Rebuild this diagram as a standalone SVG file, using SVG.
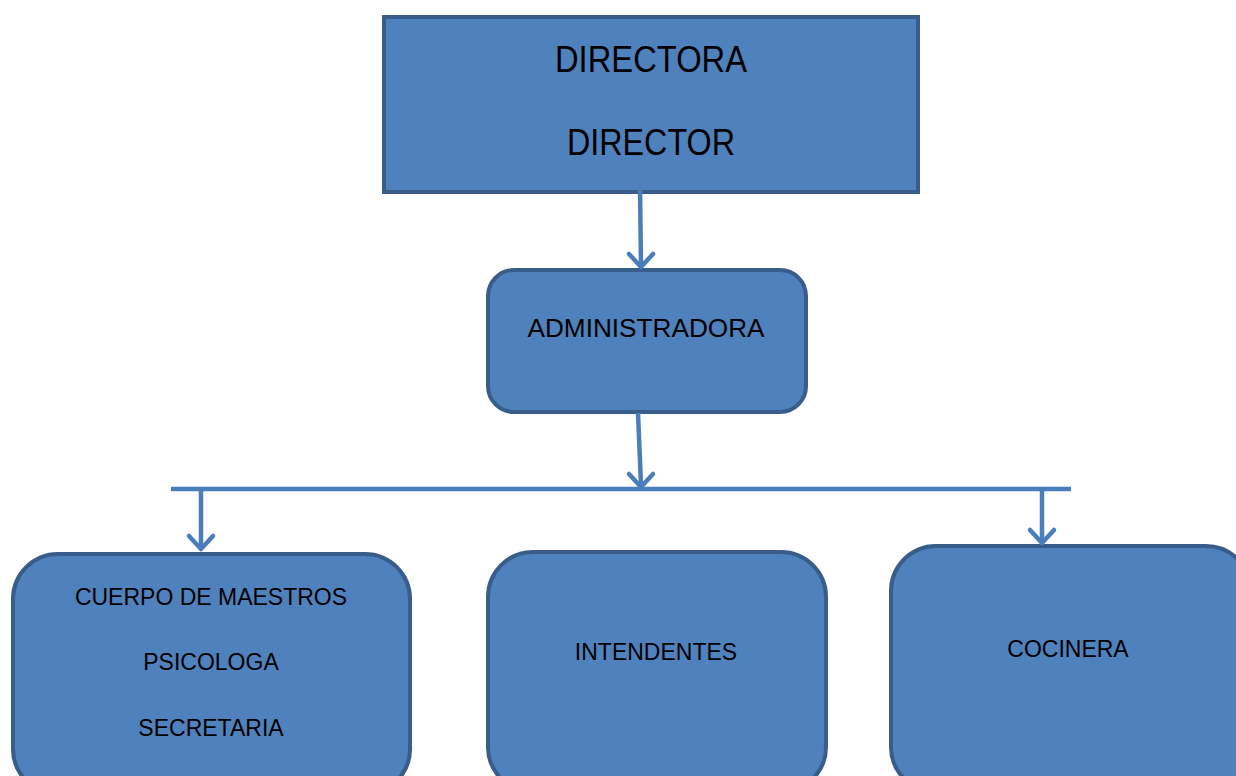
<svg xmlns="http://www.w3.org/2000/svg" width="1236" height="776" viewBox="0 0 1236 776">
<defs>
<style>
.box{fill:#4F81BD;stroke:#385D8A;stroke-width:4}
.conn{fill:none;stroke:#4A7EBB;stroke-width:4.5}
.head{fill:none;stroke:#4A7EBB;stroke-width:4.5;stroke-linecap:round;stroke-linejoin:round}
.t{font-family:"Liberation Sans",Arial,sans-serif;fill:#000;text-anchor:middle}
.big{font-size:36px}
.sm{font-size:23px}
</style>
</defs>
<rect width="1236" height="776" fill="#fff"/>
<g id="node-director">
<rect class="box" x="384" y="17" width="534" height="175"/>
<text class="t big" x="651" y="72" textLength="192" lengthAdjust="spacingAndGlyphs">DIRECTORA</text>
<text class="t big" x="651" y="155" textLength="168" lengthAdjust="spacingAndGlyphs">DIRECTOR</text>
</g>
<g id="node-administradora">
<rect class="box" x="488" y="270" width="318" height="142" rx="26" ry="26"/>
<text class="t" style="font-size:25px" x="646" y="337" textLength="237" lengthAdjust="spacingAndGlyphs">ADMINISTRADORA</text>
</g>
<g id="node-cuerpo">
<rect class="box" x="13" y="554" width="397" height="240" rx="45" ry="45"/>
<text class="t sm" x="211" y="605">CUERPO DE MAESTROS</text>
<text class="t sm" x="211" y="670">PSICOLOGA</text>
<text class="t sm" x="211" y="736">SECRETARIA</text>
</g>
<g id="node-intendentes">
<rect class="box" x="488" y="552" width="338" height="240" rx="45" ry="45"/>
<text class="t sm" x="656" y="660">INTENDENTES</text>
</g>
<g id="node-cocinera">
<rect class="box" x="891" y="546" width="360" height="246" rx="45" ry="45"/>
<text class="t sm" x="1068" y="657">COCINERA</text>
</g>
<g id="connectors">
<path class="conn" d="M640,185 L641,266"/>
<path class="conn" d="M638,413 L641,485"/>
<path class="conn" d="M171,489 L1071,489"/>
<path class="conn" d="M201,489 L201,548"/>
<path class="conn" d="M1042,489 L1042,542"/>
<path class="head" d="M629,254 L641,267 L653,254"/>
<path class="head" d="M629,474 L641,487 L653,474"/>
<path class="head" d="M189,536 L201,549 L213,536"/>
<path class="head" d="M1030,530 L1042,543 L1054,530"/>
</g>
</svg>
